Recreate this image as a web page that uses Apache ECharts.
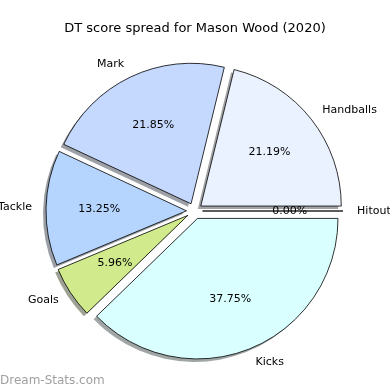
<!DOCTYPE html>
<html>
<head>
<meta charset="utf-8">
<script src="https://cdn.jsdelivr.net/npm/echarts@6/dist/echarts.min.js"></script>
<style>html,body{margin:0;padding:0;background:#fff}#c{width:390px;height:390px}</style>
</head>
<body>
<div id="c"></div>
<script>
const categories = ['Hitout', 'Handballs', 'Mark', 'Tackle', 'Goals', 'Kicks'];
const values = [0, 64, 66, 40, 18, 114];
const colors = ['#ffffff', '#eaf1ff', '#c5d9ff', '#b5d5ff', '#d0ea8c', '#d9ffff'];
const titleText = 'DT score spread for Mason Wood (2020)';
const watermark = 'Dream-Stats.com';

const CX = 194.5, CY = 211, R = 140.5, OFF = 8;
const total = values.reduce((a, b) => a + b, 0);
const FONT = 'DejaVu Sans';

function shade(hex) {
  const r = parseInt(hex.slice(1, 3), 16), g = parseInt(hex.slice(3, 5), 16), b = parseInt(hex.slice(5, 7), 16);
  return 'rgba(' + Math.round(r * 0.3) + ',' + Math.round(g * 0.3) + ',' + Math.round(b * 0.3) + ',0.5)';
}

const base = {
  type: 'pie',
  startAngle: 0,
  clockwise: false,
  selectedMode: 'multiple',
  selectedOffset: OFF,
  avoidLabelOverlap: false,
  silent: true,
  animation: false,
  emphasis: { disabled: true },
  minShowLabelAngle: -1
};

const chart = echarts.init(document.getElementById('c'), null, { renderer: 'canvas' });
chart.setOption({
  animation: false,
  title: {
    text: titleText, left: 'center', top: 17,
    textStyle: { fontFamily: FONT, fontSize: 13, fontWeight: 'normal', color: '#000' }
  },
  graphic: [{
    type: 'text', left: 0, top: 375,
    style: { text: watermark, fontFamily: FONT, fontSize: 12, fill: '#a0a0a0' }
  }],
  series: [
    Object.assign({}, base, {
      name: 'shadow', center: [CX - 3, CY + 3], radius: R,
      label: { show: false }, labelLine: { show: false },
      data: categories.map((c, i) => ({
        name: c, value: values[i], selected: true,
        itemStyle: { color: shade(colors[i]), borderWidth: 0 }
      }))
    }),
    Object.assign({}, base, {
      name: 'main', center: [CX, CY], radius: R,
      label: {
        show: true, position: 'outside', distanceToLabelLine: 0,
        fontFamily: FONT, fontSize: 11, color: '#000',
        formatter: p => p.name
      },
      labelLine: { show: false, length: R * 0.1, length2: 0 },
      data: categories.map((c, i) => ({
        name: c, value: values[i], selected: true,
        itemStyle: { color: colors[i], borderColor: '#000', borderWidth: 0.8 }
      }))
    }),
    Object.assign({}, base, {
      name: 'pct', center: [CX, CY], radius: [R * 0.2, R],
      label: {
        show: true, position: 'inside',
        fontFamily: FONT, fontSize: 11, color: '#000',
        formatter: p => (p.value / total * 100).toFixed(2) + '%'
      },
      labelLine: { show: false },
      data: categories.map((c, i) => ({
        name: c, value: values[i], selected: true,
        itemStyle: { color: 'rgba(0,0,0,0)', borderWidth: 0 }
      }))
    })
  ]
});
</script>
</body>
</html>
